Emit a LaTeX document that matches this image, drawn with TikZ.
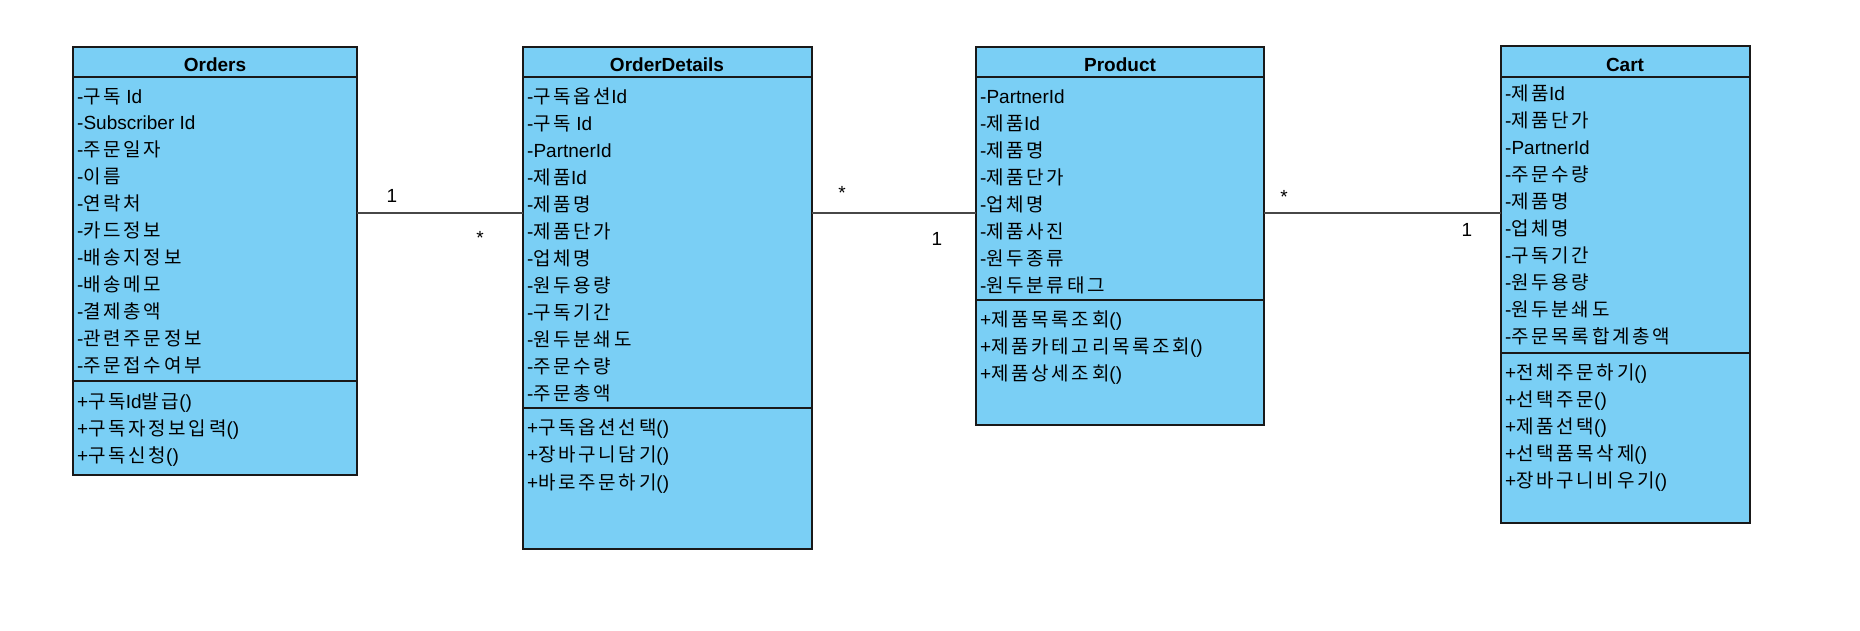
\documentclass[tikz,border=0pt]{standalone}
\usepackage{fontspec}
\setmainfont{Liberation Sans}
\newfontfamily\krf[LetterSpace=14]{Noto Sans CJK KR}
\newcommand\hk[1]{{\krf #1}}
\definecolor{classfill}{RGB}{122,207,245}
\definecolor{edge}{RGB}{25,25,25}
\tikzset{
  classbox/.style={draw=edge, line width=1.6pt, fill=classfill, inner sep=0pt, outer sep=0pt, anchor=north west},
  sepline/.style={draw=edge, line width=1.6pt},
  member/.style={anchor=base west, inner sep=0pt, font=\fontsize{19}{23}\selectfont},
  title/.style={anchor=base, inner sep=0pt, font=\fontsize{19}{23}\selectfont\bfseries},
  assoc/.style={draw=edge!80!white, line width=1.5pt},
  mult/.style={anchor=base, inner sep=0pt, font=\fontsize{19}{23}\selectfont},
}
\begin{document}
\begin{tikzpicture}[x=1pt, y=-1pt]
\useasboundingbox (0,0) rectangle (1860,630);
\fill[white] (0,0) rectangle (1860,630);

% ---------- Orders ----------
\node[classbox, minimum width=284pt, minimum height=428pt] (orders) at (73,47) {};
\draw[sepline] (73,77) -- (357,77);
\draw[sepline] (73,381) -- (357,381);
\node[title] (orders-t) at (215,71) {Orders};
\foreach \t [count=\i from 0] in {-\hk{구독} Id, -Subscriber Id, -\hk{주문일자}, -\hk{이름}, -\hk{연락처}, -\hk{카드정보}, -\hk{배송지정보}, -\hk{배송메모}, -\hk{결제총액}, -\hk{관련주문정보}, -\hk{주문접수여부}}
  \node[member] (orders-a\i) at (77,{103+26.9*\i}) {\t};
\foreach \t [count=\i from 0] in {+\hk{구독}Id\hk{발급}(), +\hk{구독자정보입력}(), +\hk{구독신청}()}
  \node[member] (orders-m\i) at (77,{408+27*\i}) {\t};

% ---------- OrderDetails ----------
\node[classbox, minimum width=289pt, minimum height=502pt] (details) at (523,47) {};
\draw[sepline] (523,77) -- (812,77);
\draw[sepline] (523,408) -- (812,408);
\node[title] (details-t) at (667,71) {OrderDetails};
\foreach \t [count=\i from 0] in {-\hk{구독옵션}Id, -\hk{구독} Id, -PartnerId, -\hk{제품}Id, -\hk{제품명}, -\hk{제품단가}, -\hk{업체명}, -\hk{원두용량}, -\hk{구독기간}, -\hk{원두분쇄도}, -\hk{주문수량}, -\hk{주문총액}}
  \node[member] (details-a\i) at (527,{103+27*\i}) {\t};
\foreach \t [count=\i from 0] in {+\hk{구독옵션선택}(), +\hk{장바구니담기}(), +\hk{바로주문하기}()}
  \node[member] (details-m\i) at (527,{434+27.5*\i}) {\t};

% ---------- Product ----------
\node[classbox, minimum width=288pt, minimum height=378pt] (product) at (976,47) {};
\draw[sepline] (976,77) -- (1264,77);
\draw[sepline] (976,300) -- (1264,300);
\node[title] (product-t) at (1120,71) {Product};
\foreach \t [count=\i from 0] in {-PartnerId, -\hk{제품}Id, -\hk{제품명}, -\hk{제품단가}, -\hk{업체명}, -\hk{제품사진}, -\hk{원두종류}, -\hk{원두분류태그}}
  \node[member] (product-a\i) at (980,{103+27*\i}) {\t};
\foreach \t [count=\i from 0] in {+\hk{제품목록조회}(), +\hk{제품카테고리목록조회}(), +\hk{제품상세조회}()}
  \node[member] (product-m\i) at (980,{326+27*\i}) {\t};

% ---------- Cart ----------
\node[classbox, minimum width=249pt, minimum height=477pt] (cart) at (1501,46) {};
\draw[sepline] (1501,77) -- (1750,77);
\draw[sepline] (1501,353) -- (1750,353);
\node[title] (cart-t) at (1625,71) {Cart};
\foreach \t [count=\i from 0] in {-\hk{제품}Id, -\hk{제품단가}, -PartnerId, -\hk{주문수량}, -\hk{제품명}, -\hk{업체명}, -\hk{구독기간}, -\hk{원두용량}, -\hk{원두분쇄도}, -\hk{주문목록합계총액}}
  \node[member] (cart-a\i) at (1505,{100+27.1*\i}) {\t};
\foreach \t [count=\i from 0] in {+\hk{전체주문하기}(), +\hk{선택주문}(), +\hk{제품선택}(), +\hk{선택품목삭제}(), +\hk{장바구니비우기}()}
  \node[member] (cart-m\i) at (1505,{379+27*\i}) {\t};

% ---------- Associations ----------
\coordinate (cy) at (0,213);
\draw[assoc] (orders.east |- cy) -- (details.west |- cy);
\draw[assoc] (details.east |- cy) -- (product.west |- cy);
\draw[assoc] (product.east |- cy) -- (cart.west |- cy);

\node[mult] (m1) at (392,202) {1};
\node[mult] (m2) at (480,244) {*};
\node[mult] (m3) at (842,199) {*};
\node[mult] (m4) at (937,245) {1};
\node[mult] (m5) at (1284,203) {*};
\node[mult] (m6) at (1467,236) {1};
\end{tikzpicture}
\end{document}
